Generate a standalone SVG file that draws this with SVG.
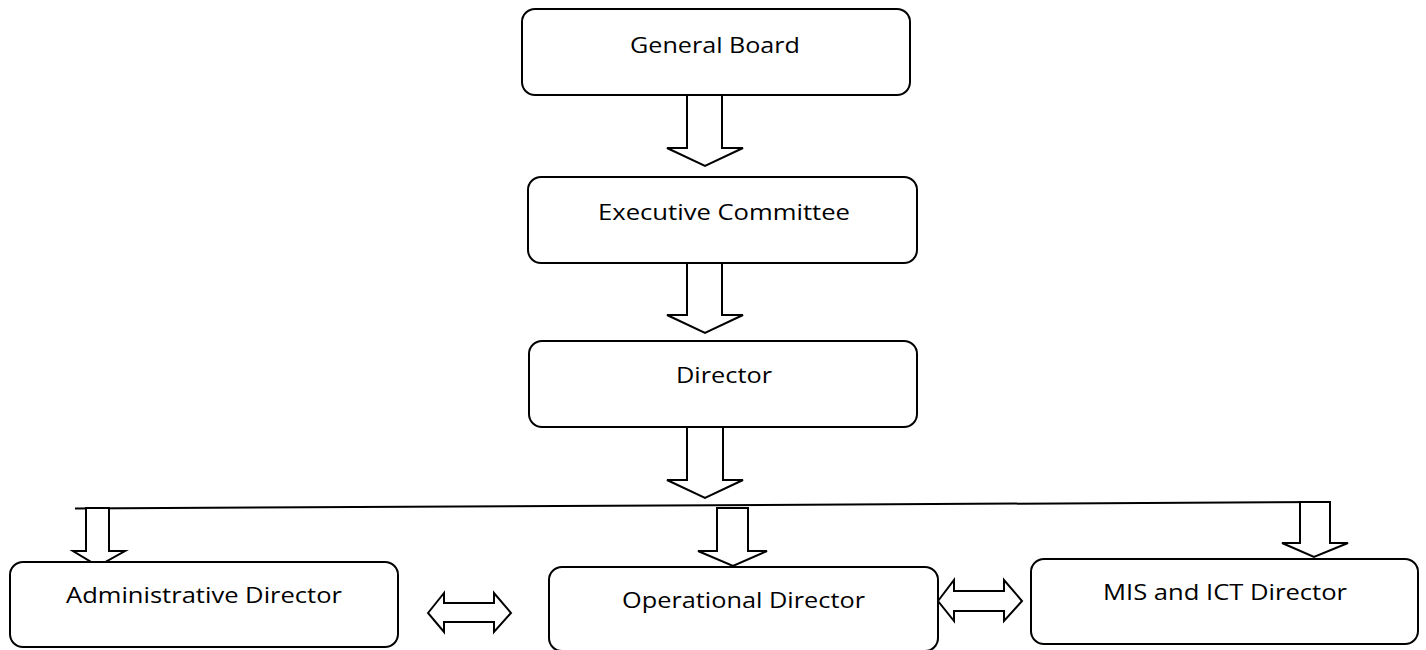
<svg xmlns="http://www.w3.org/2000/svg" width="1426" height="650" viewBox="0 0 1426 650">
<style>
.box{fill:#fff;stroke:#000;stroke-width:2}
.arr{fill:#fff;stroke:#000;stroke-width:2;stroke-linejoin:miter}
.lbl{font-family:"Open Sans","Noto Sans","Liberation Sans",sans-serif;font-size:22px;fill:#000;text-anchor:middle}
</style>
<rect width="1426" height="650" fill="#fff"/>
<g id="connectors">
<line x1="75" y1="508.5" x2="1330" y2="502" stroke="#000" stroke-width="2"/>
<polygon class="arr" points="687,95 722,95 722,148 743,148 705,166 667,148 687,148"/>
<polygon class="arr" points="687,263 722,263 722,315 743,315 705,333 667,315 687,315"/>
<polygon class="arr" points="687,427 723,427 723,480 743,480 705,498 667,480 687,480"/>
<polygon class="arr" points="86,508 109,508 109,551 125,551 98,566 73,551 86,551"/>
<polygon class="arr" points="717,508 748,508 748,551 767,551 733,566 698,551 717,551"/>
<polygon class="arr" points="1300,502 1330,502 1330,543 1348,543 1314,557 1282,543 1300,543"/>
<polygon class="arr" points="428,613 444,593 444,603 494,603 494,593 511,613 494,632 494,622 444,622 444,632"/>
<polygon class="arr" points="938,601 954,580 954,591 1004,591 1004,580 1022,601 1004,621 1004,611 954,611 954,621"/>
</g>
<g id="general-board">
<rect class="box" x="522" y="9" width="388" height="86" rx="13"/>
<text class="lbl" x="715" y="53" textLength="170" lengthAdjust="spacingAndGlyphs">General Board</text>
</g>
<g id="executive-committee">
<rect class="box" x="528" y="177" width="389" height="86" rx="13"/>
<text class="lbl" x="724" y="220" textLength="252" lengthAdjust="spacingAndGlyphs">Executive Committee</text>
</g>
<g id="director">
<rect class="box" x="529" y="341" width="388" height="86" rx="13"/>
<text class="lbl" x="724" y="383" textLength="96" lengthAdjust="spacingAndGlyphs">Director</text>
</g>
<g id="administrative-director">
<rect class="box" x="10" y="562" width="388" height="85" rx="13"/>
<text class="lbl" x="204" y="603" textLength="276" lengthAdjust="spacingAndGlyphs">Administrative Director</text>
</g>
<g id="operational-director">
<rect class="box" x="549" y="567" width="389" height="84" rx="13"/>
<text class="lbl" x="743.5" y="608" textLength="243" lengthAdjust="spacingAndGlyphs">Operational Director</text>
</g>
<g id="mis-ict-director">
<rect class="box" x="1031" y="559" width="387" height="85" rx="13"/>
<text class="lbl" x="1225" y="600" textLength="244" lengthAdjust="spacingAndGlyphs">MIS and ICT Director</text>
</g>
</svg>
